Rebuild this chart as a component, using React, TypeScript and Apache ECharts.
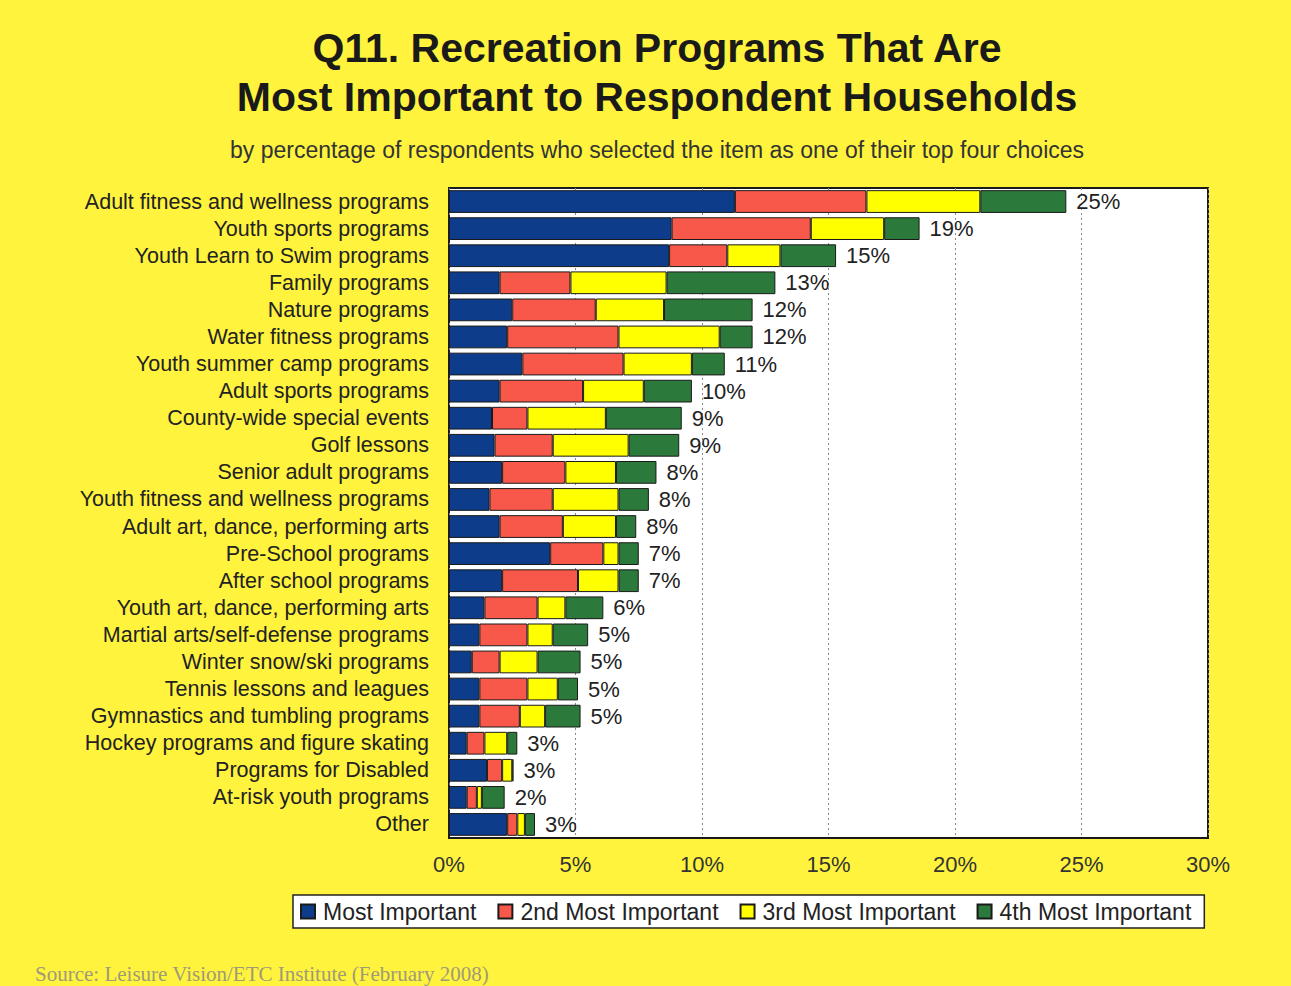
import React, { useEffect, useRef } from "react";
import * as echarts from "echarts";

const categories = [
  "Adult fitness and wellness programs",
  "Youth sports programs",
  "Youth Learn to Swim programs",
  "Family programs",
  "Nature programs",
  "Water fitness programs",
  "Youth summer camp programs",
  "Adult sports programs",
  "County-wide special events",
  "Golf lessons",
  "Senior adult programs",
  "Youth fitness and wellness programs",
  "Adult art, dance, performing arts",
  "Pre-School programs",
  "After school programs",
  "Youth art, dance, performing arts",
  "Martial arts/self-defense programs",
  "Winter snow/ski programs",
  "Tennis lessons and leagues",
  "Gymnastics and tumbling programs",
  "Hockey programs and figure skating",
  "Programs for Disabled",
  "At-risk youth programs",
  "Other",
];

const mostImportant = [11.3, 8.8, 8.7, 2.0, 2.5, 2.3, 2.9, 2.0, 1.7, 1.8, 2.1, 1.6, 2.0, 4.0, 2.1, 1.4, 1.2, 0.9, 1.2, 1.2, 0.7, 1.5, 0.7, 2.3];
const secondImportant = [5.2, 5.5, 2.3, 2.8, 3.3, 4.4, 4.0, 3.3, 1.4, 2.3, 2.5, 2.5, 2.5, 2.1, 3.0, 2.1, 1.9, 1.1, 1.9, 1.6, 0.7, 0.6, 0.4, 0.4];
const thirdImportant = [4.5, 2.9, 2.1, 3.8, 2.7, 4.0, 2.7, 2.4, 3.1, 3.0, 2.0, 2.6, 2.1, 0.6, 1.6, 1.1, 1.0, 1.5, 1.2, 1.0, 0.9, 0.4, 0.2, 0.3];
const fourthImportant = [3.4, 1.4, 2.2, 4.3, 3.5, 1.3, 1.3, 1.9, 3.0, 2.0, 1.6, 1.2, 0.8, 0.8, 0.8, 1.5, 1.4, 1.7, 0.8, 1.4, 0.4, 0.05, 0.9, 0.4];
const totalLabels = ["25%", "19%", "15%", "13%", "12%", "12%", "11%", "10%", "9%", "9%", "8%", "8%", "8%", "7%", "7%", "6%", "5%", "5%", "5%", "5%", "3%", "3%", "2%", "3%"];

const seriesNames = ["Most Important", "2nd Most Important", "3rd Most Important", "4th Most Important"];
const colors = ["#0D3C8A", "#F8584A", "#FFFF00", "#2B7A3B"];
const xTicks = [0, 5, 10, 15, 20, 25, 30];

const FONT = "'Liberation Sans', Arial, sans-serif";

export default function App() {
  const ref = useRef<HTMLDivElement>(null);
  useEffect(() => {
    document.body.style.margin = "0";
    const chart = echarts.init(ref.current!, undefined, { renderer: "svg" });
    const data = [mostImportant, secondImportant, thirdImportant, fourthImportant];
    const series: any[] = data.map((d, i) => ({
      name: seriesNames[i],
      type: "bar",
      stack: "total",
      barCategoryGap: "16%",
      data: d,
      itemStyle: { color: colors[i], borderColor: "#1a1a1a", borderWidth: 1 },
      label:
        i === 3
          ? {
              show: true,
              position: "right",
              distance: 10,
              formatter: (p: any) => totalLabels[p.dataIndex],
              fontFamily: FONT,
              fontSize: 22,
              color: "#222",
            }
          : { show: false },
    }));
    chart.setOption({
      animation: false,
      backgroundColor: "#FFF33D",
      title: [
        {
          text: "Q11. Recreation Programs That Are\nMost Important to Respondent Households",
          left: 652,
          top: 18,
          textAlign: "center",
          textStyle: { fontFamily: FONT, fontSize: 41, fontWeight: "bold", color: "#1a1a1a", lineHeight: 49 },
        },
        {
          text: "by percentage of respondents who selected the item as one of their top four choices",
          left: 652,
          top: 133,
          textAlign: "center",
          textStyle: { fontFamily: FONT, fontSize: 23, fontWeight: "normal", color: "#333" },
        },
        {
          text: "Source: Leisure Vision/ETC Institute (February 2008)",
          left: 30,
          top: 958,
          textStyle: { fontFamily: "'Liberation Serif', serif", fontSize: 21, fontWeight: "normal", color: "#a09a78" },
        },
      ],
      legend: {
        data: seriesNames,
        left: 293,
        top: 895,
        itemWidth: 14,
        itemHeight: 14,
        itemGap: 21,
        padding: [5, 13, 5, 7],
        backgroundColor: "#fff",
        borderColor: "#222",
        borderWidth: 1.5,
        textStyle: { fontFamily: FONT, fontSize: 23, color: "#222", padding: [0, 0, 0, 3] },
        icon: "rect",
      },
      grid: {
        left: 449,
        right: 83,
        top: 188,
        bottom: 148,
        show: true,
        backgroundColor: "#fff",
        borderColor: "#1a1a1a",
        borderWidth: 2,
        containLabel: false,
      },
      xAxis: {
        type: "value",
        min: 0,
        max: 30,
        interval: 5,
        axisLabel: {
          formatter: (v: number) => (xTicks.includes(v) ? v + "%" : ""),
          fontFamily: FONT,
          fontSize: 22,
          color: "#333",
          margin: 15,
        },
        axisLine: { show: false },
        axisTick: { show: false },
        splitLine: { show: true, lineStyle: { color: "#888", type: [2, 3], width: 1 } },
      },
      yAxis: {
        type: "category",
        data: categories,
        inverse: true,
        axisLabel: { fontFamily: FONT, fontSize: 21.5, color: "#222", margin: 20, interval: 0 },
        axisLine: { show: false },
        axisTick: { show: false },
      },
      series,
    });
    return () => chart.dispose();
  }, []);
  return <div ref={ref} style={{ width: 1291, height: 986 }} />;
}
